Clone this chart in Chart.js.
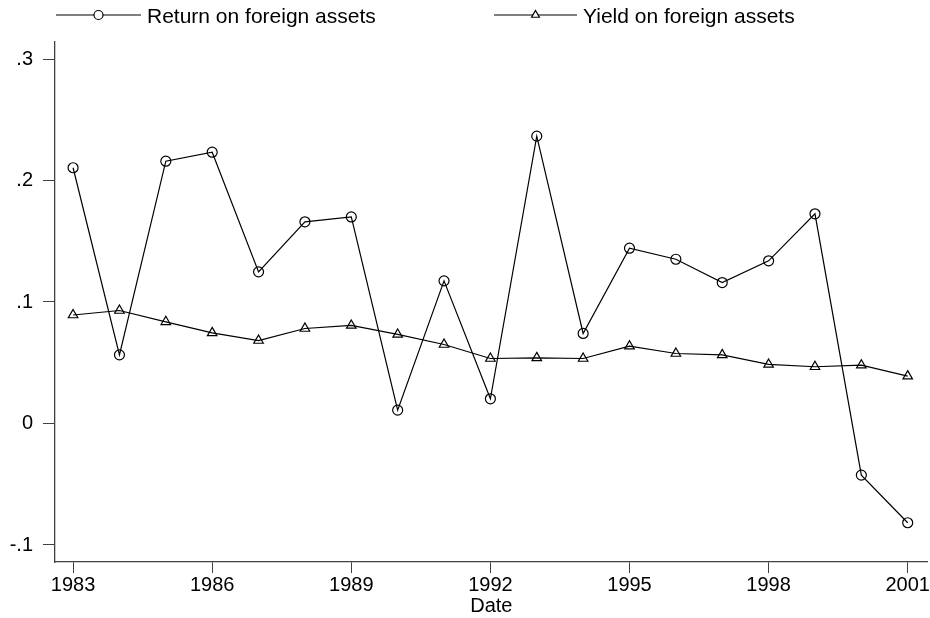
<!DOCTYPE html>
<html>
<head>
<meta charset="utf-8">
<script src="https://cdn.jsdelivr.net/npm/chart.js@4/dist/chart.umd.min.js"></script>
<style>
  body { margin: 0; background: #fff; }
  canvas { display: block; }
</style>
</head>
<body>
<canvas id="chart" width="930" height="618"></canvas>
<script>
// values
const years = [1983,1984,1985,1986,1987,1988,1989,1990,1991,1992,1993,1994,1995,1996,1997,1998,1999,2000,2001];
const returnOnAssets = [0.2105,0.0565,0.2159,0.2233,0.1248,0.166,0.170,0.011,0.1174,0.0203,0.2365,0.0741,0.1443,0.1352,0.116,0.1339,0.1726,-0.0425,-0.0817];
const yieldOnAssets = [0.0893,0.093,0.0837,0.0746,0.0683,0.0782,0.0807,0.0733,0.065,0.0535,0.054,0.0535,0.0636,0.0576,0.0565,0.0486,0.0467,0.048,0.039];
const xTicks = [1983,1986,1989,1992,1995,1998,2001];
const yTicks = [-0.1,0,0.1,0.2,0.3];
const yTickLabels = ['-.1','0','.1','.2','.3'];
const seriesNames = ['Return on foreign assets','Yield on foreign assets'];

const FONT = '"Liberation Sans", Arial, Helvetica, sans-serif';
const axisColor = '#404040';

function toPoints(vals) {
  return years.map((yr, i) => ({ x: yr, y: vals[i] }));
}

// legend in the Stata style: line - marker - line, then label
const topLegend = {
  id: 'topLegend',
  afterDraw(chart) {
    const ctx = chart.ctx;
    const items = [
      { x0: 56, x1: 141, tx: 147, ds: 0 },
      { x0: 494, x1: 577, tx: 583, ds: 1 }
    ];
    const ly = 15;
    ctx.save();
    items.forEach(it => {
      const ds = chart.data.datasets[it.ds];
      ctx.strokeStyle = '#000';
      ctx.lineWidth = 1.2;
      ctx.beginPath();
      ctx.moveTo(it.x0, ly);
      ctx.lineTo(it.x1, ly);
      ctx.stroke();
      ctx.fillStyle = '#fff';
      Chart.helpers.drawPoint(ctx, {
        pointStyle: ds.pointStyle, radius: 4.5, borderWidth: 1.1, rotation: 0
      }, (it.x0 + it.x1) / 2, ly);
      ctx.fillStyle = '#000';
      ctx.font = '21px ' + FONT;
      ctx.textBaseline = 'alphabetic';
      ctx.textAlign = 'left';
      ctx.fillText(ds.label, it.tx, 23);
    });
    ctx.restore();
  }
};

new Chart(document.getElementById('chart'), {
  type: 'line',
  data: {
    datasets: [
      {
        label: seriesNames[0],
        data: toPoints(returnOnAssets),
        borderColor: '#000',
        borderWidth: 1.2,
        pointStyle: 'circle',
        pointRadius: 5,
        pointBorderWidth: 1.2,
        pointBorderColor: '#000',
        pointBackgroundColor: 'rgba(0,0,0,0)',
        tension: 0
      },
      {
        label: seriesNames[1],
        data: toPoints(yieldOnAssets),
        borderColor: '#000',
        borderWidth: 1.2,
        pointStyle: 'triangle',
        pointRadius: 5.5,
        pointBorderWidth: 1.2,
        pointBorderColor: '#000',
        pointBackgroundColor: 'rgba(0,0,0,0)',
        tension: 0
      }
    ]
  },
  options: {
    responsive: false,
    animation: false,
    layout: { autoPadding: false, padding: { top: 42, right: 2, bottom: 0, left: 0 } },
    plugins: {
      legend: { display: false },
      tooltip: { enabled: false }
    },
    scales: {
      x: {
        type: 'linear',
        min: 1982.61,
        max: 2001.43,
        afterFit: s => { s.height = 56; },
        afterBuildTicks: s => { s.ticks = xTicks.map(v => ({ value: v })); },
        grid: { display: true, drawOnChartArea: false, drawTicks: true, tickLength: 11, tickColor: axisColor, tickWidth: 1 },
        border: { display: true, color: axisColor, width: 1.3 },
        ticks: {
          color: '#000', padding: 0, maxRotation: 0, autoSkip: false,
          font: { family: FONT, size: 20 },
          callback: v => String(v)
        },
        title: {
          display: true, text: 'Date', color: '#000',
          font: { family: FONT, size: 20 },
          padding: { top: 0, bottom: 0 }
        }
      },
      y: {
        min: -0.114,
        max: 0.314,
        afterFit: s => { s.width = 55; },
        afterBuildTicks: s => { s.ticks = yTicks.map(v => ({ value: v })); },
        grid: { display: true, drawOnChartArea: false, drawTicks: true, tickLength: 12, tickColor: axisColor, tickWidth: 1 },
        border: { display: true, color: axisColor, width: 1.3 },
        ticks: {
          color: '#000', padding: 10,
          font: { family: FONT, size: 20 },
          callback: v => {
            const i = yTicks.findIndex(t => Math.abs(t - v) < 1e-9);
            return i >= 0 ? yTickLabels[i] : '';
          }
        }
      }
    }
  },
  plugins: [topLegend]
});
</script>
</body>
</html>
